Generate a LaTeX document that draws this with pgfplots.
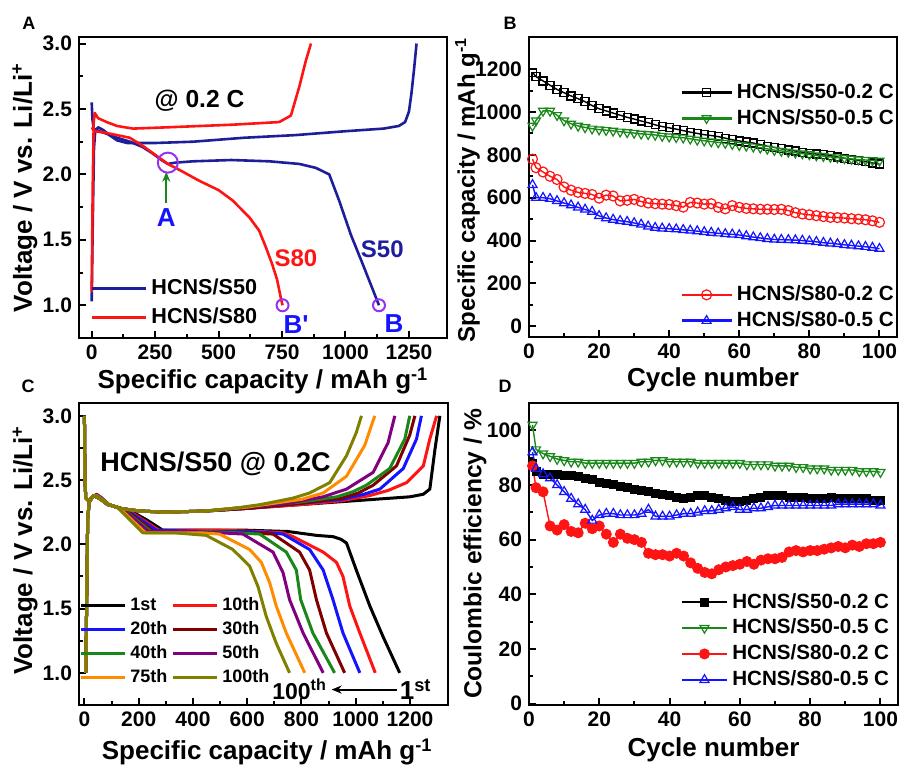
\documentclass[border=0pt]{standalone}
\usepackage{pgfplots}
\pgfplotsset{compat=1.18}
\usepackage{pgfplotstable}
\usepackage{fontspec}
\setmainfont{Liberation Sans}
\newfontfamily\plainsans{Liberation Sans}[Ligatures=ResetAll]
\usetikzlibrary{arrows.meta}

\definecolor{navy}{RGB}{30,30,155}
\definecolor{myred}{RGB}{255,20,20}
\definecolor{mygreen}{RGB}{25,135,25}
\definecolor{myblue}{RGB}{20,20,255}
\definecolor{violetc}{RGB}{150,50,240}
\definecolor{dred}{RGB}{128,0,0}
\definecolor{purp}{RGB}{128,0,128}
\definecolor{orng}{RGB}{255,140,0}
\definecolor{olv}{RGB}{128,128,0}

\newcommand{\fs}[1]{\fontsize{#1}{#1}\selectfont\bfseries}

\pgfplotsset{
 base/.style={
  scale only axis,
  anchor=south west,
  axis line style={line width=1.3pt},
  tick align=inside,
  tick pos=left,
  major tick length=3.5pt,
  minor tick length=2pt,
  tick style={black, line width=1pt},
  minor tick num=1,
  tick label style={font=\fs{10.5}},
  label style={font=\fs{13}},
  /pgf/number format/assume math mode=true,
  /pgf/number format/1000 sep={},
  legend cell align=left,
 },
 onedec/.style={yticklabel style={/pgf/number format/fixed, /pgf/number format/fixed zerofill, /pgf/number format/precision=1}},
}

\pgfplotstableread{
c a b r u
1 1185 935 780 660
2 1165 960 740 600
4 1145 1005 720 600
6 1125 1005 700 595
8 1105 985 685 585
10 1090 960 650 575
12 1075 945 635 565
14 1062 935 625 555
16 1048 928 620 545
18 1030 922 615 535
20 1015 918 598 515
22 1005 915 612 505
24 995 912 608 498
26 985 908 585 492
28 975 905 588 488
30 967 902 592 482
32 958 898 582 475
34 950 896 575 466
36 940 893 572 460
38 932 888 570 457
40 926 885 568 455
42 920 882 563 453
44 913 880 556 450
46 906 875 578 447
48 900 870 575 444
50 894 866 570 440
52 890 862 572 437
54 885 858 555 434
56 878 855 548 431
58 870 850 563 429
60 865 845 555 426
62 860 842 550 421
64 855 838 548 416
66 848 833 546 412
68 840 828 546 408
70 835 822 545 405
72 828 818 546 404
74 823 814 540 403
76 818 810 530 402
78 812 806 524 400
80 808 802 520 397
82 804 797 516 394
84 800 794 512 390
86 796 790 508 387
88 790 787 507 384
90 784 784 505 380
92 779 781 502 377
94 774 778 500 374
96 768 776 497 371
98 762 774 492 367
100 757 772 485 362
}\capdata

\pgfplotstableread{
c a b r u
1 88 102 87 92
2 85 93 79 86
4 84 91.5 77.5 84
6 84 90.5 65 82.5
8 84 89.5 63.5 80
10 83.5 89 65.5 77.5
12 83.5 88.5 63 75
14 83 88.5 62.5 73
16 82.5 88 66 71
18 82 88 64 67
20 81 88 65 69
22 80.5 88 62 69.5
24 80 88 59 69.5
26 79.5 88 62 69
28 79 88 60.5 69
30 78.5 88 60 69
32 78 88.5 59 69.5
34 77.5 88.5 55 71
36 77 89 54.5 68.5
38 76.5 89 54.5 68.5
40 76 88.5 54 68.5
42 75.5 88.5 55 69
44 75 88.5 54 69.5
46 75.5 88.5 51.5 69.5
48 76 88 49.5 70
50 76 88 48 70.5
52 75.5 88 47.5 70.5
54 75 88 49 71
56 74.5 88 50 71.5
58 74 88 50.5 72
60 74 88 51 71
62 74.5 87.5 52 71
64 75 87.5 51 71.5
66 75.5 87.5 52.5 71.5
68 76 87.5 53 72
70 76 87 53 72.5
72 76 87 53.5 72.5
74 75.5 87 55.5 72.5
76 75.5 86.5 56 72.5
78 75.5 86.5 55.5 72.5
80 75 86 56 72.5
82 75 86 56 72.5
84 75 86 56.5 72.5
86 75.5 85.5 57 72.5
88 75 85.5 57.5 73
90 75 85.5 57 73
92 75 85.5 58 73
94 75 85 57.5 73
96 75 85 58.5 73
98 74.5 85 58.5 73
100 74.5 84.7 59 72.5
}\cedata

\begin{document}
\begin{tikzpicture}
\useasboundingbox (0,0) rectangle (450.5pt,382.5pt);

% panel letters
\node[font=\fs{9}] at (14.5pt,371pt) {A};
\node[font=\fs{9}] at (255pt,371pt) {B};
\node[font=\fs{9}] at (14pt,189.5pt) {C};
\node[font=\fs{9}] at (252.5pt,189.5pt) {D};

% ---------------- A ----------------
\begin{axis}[base, onedec, at={(39.5pt,213.5pt)}, width=184pt, height=150.5pt,
 xmin=-50, xmax=1400, ymin=0.75, ymax=3.05,
 xtick={0,250,500,750,1000,1250}, ytick={1,1.5,2,2.5,3},
 xlabel={Specific capacity / mAh g\textsuperscript{-1}},
 ylabel={Voltage / V vs. Li/Li\textsuperscript{+}},
 xlabel style={at={(axis description cs:0.5,-0.143)}, anchor=center},
 ylabel style={at={(axis description cs:-0.147,0.5)}, anchor=center},
 legend style={at={(0.03,0.21)}, anchor=north west, draw=none, fill=none, font=\fs{10.8}, row sep=1pt, inner sep=0pt},
 legend image code/.code={\draw[#1, line width=1.5pt] (0pt,0pt) -- (27pt,0pt);},
]
\addplot[navy, line width=1.3pt, line join=round] coordinates {(0,1.03) (4,1.6) (9,2.2) (14,2.33) (25,2.36) (45,2.34) (70,2.3) (100,2.26) (140,2.24) (250,2.24) (400,2.25) (600,2.28) (800,2.3) (1000,2.33) (1150,2.35) (1210,2.37) (1235,2.40) (1250,2.48) (1260,2.62) (1270,2.8) (1280,3.0)};
\addlegendentry{HCNS/S50}
\addplot[navy, line width=1.3pt, line join=round, forget plot] coordinates {(0,2.55) (3,2.42) (8,2.35) (30,2.33) (60,2.31) (100,2.28) (150,2.25) (200,2.21) (240,2.16) (275,2.11) (300,2.08) (330,2.09) (400,2.1) (550,2.11) (700,2.1) (818,2.08) (883,2.05) (936,2.0) (975,1.8) (1021,1.54) (1073,1.29) (1132,1.0)};
\addplot[myred, line width=1.3pt, line join=round] coordinates {(0,1.1) (4,1.9) (8,2.4) (12,2.47) (25,2.43) (59,2.40) (100,2.37) (163,2.35) (300,2.36) (556,2.38) (739,2.40) (785,2.45) (818,2.67) (844,2.87) (864,3.0)};
\addlegendentry{HCNS/S80}
\addplot[myred, line width=1.3pt, line join=round, forget plot] coordinates {(0,2.36) (10,2.33) (50,2.32) (100,2.3) (150,2.28) (200,2.22) (250,2.15) (300,2.08) (350,2.03) (425,1.95) (500,1.88) (556,1.8) (622,1.67) (660,1.57) (687,1.44) (710,1.32) (730,1.2) (746,1.05) (752,1.0)};
\addplot[only marks, mark=o, mark size=5pt, violetc, line width=1pt, forget plot] coordinates {(300,2.09)};
\addplot[only marks, mark=o, mark size=3pt, violetc, line width=1pt, forget plot] coordinates {(752,1.0) (1132,1.0)};
\draw[mygreen, line width=1pt, -{Stealth[length=5pt,width=4pt]}] (axis cs:294,1.78) -- (axis cs:294,2.02);
\node[font=\fs{13}, myblue] at (axis cs:294,1.67) {A};
\node[font=\fs{12}, myred] at (axis cs:805,1.36) {S80};
\node[font=\fs{12}, navy] at (axis cs:1145,1.43) {S50};
\node[font=\fs{13}\plainsans, myblue] at (axis cs:805,0.85) {B'};
\node[font=\fs{13}, myblue] at (axis cs:1191,0.86) {B};
\node[font=\fs{12.3}] at (axis cs:425,2.56) {@ 0.2 C};
\end{axis}

% ---------------- B ----------------
\begin{axis}[base, at={(264.5pt,214pt)}, width=184pt, height=150pt,
 xmin=0, xmax=105, ymin=-50, ymax=1350,
 xtick={0,20,40,60,80,100}, ytick={0,200,400,600,800,1000,1200},
 xlabel={Cycle number},
 ylabel={Specific capacity / mAh g\textsuperscript{-1}},
 xlabel style={at={(axis description cs:0.5,-0.143)}, anchor=center},
 ylabel style={at={(axis description cs:-0.167,0.49)}, anchor=center, font=\fs{12}},
 legend style={at={(0.41,0.86)}, anchor=north west, draw=none, fill=none, font=\fs{10.3}, row sep=0pt, inner sep=0pt},
 legend image code/.code={\draw[mark repeat=2,mark phase=2,#1] plot coordinates {(0pt,0pt) (12.5pt,0pt) (25pt,0pt)};},
 legend image post style={line width=1.3pt},
]
\addplot[black, line width=0.7pt, mark=square, mark size=2pt, mark options={fill=white, line width=0.6pt}] table[x=c, y=a] {\capdata};
\addlegendentry{HCNS/S50-0.2 C}
\addplot[mygreen, line width=0.7pt, mark=triangle, mark size=2.6pt, mark options={fill=white, line width=0.6pt, rotate=180}] table[x=c, y=b] {\capdata};
\addlegendentry{HCNS/S50-0.5 C}
\end{axis}
\begin{axis}[scale only axis, anchor=south west, hide axis, at={(264.5pt,214pt)}, width=184pt, height=150pt,
 xmin=0, xmax=105, ymin=-50, ymax=1350,
 legend cell align=left,
 legend style={at={(0.41,0.185)}, anchor=north west, draw=none, fill=none, font=\fs{10.3}, row sep=0pt, inner sep=0pt},
 legend image code/.code={\draw[mark repeat=2,mark phase=2,#1] plot coordinates {(0pt,0pt) (12.5pt,0pt) (25pt,0pt)};},
 legend image post style={line width=1.3pt},
]
\addplot[myred, line width=0.7pt, mark=o, mark size=2.5pt, mark options={fill=white, line width=0.6pt}] table[x=c, y=r] {\capdata};
\addlegendentry{HCNS/S80-0.2 C}
\addplot[myblue, line width=0.7pt, mark=triangle, mark size=2.6pt, mark options={fill=white, line width=0.6pt}] table[x=c, y=u] {\capdata};
\addlegendentry{HCNS/S80-0.5 C}
\end{axis}

% ---------------- C ----------------
\begin{axis}[base, onedec, at={(39.5pt,30pt)}, width=184.5pt, height=151pt,
 xmin=-20, xmax=1340, ymin=0.75, ymax=3.1,
 xtick={0,200,400,600,800,1000,1200}, ytick={1,1.5,2,2.5,3},
 xlabel={Specific capacity / mAh g\textsuperscript{-1}},
 ylabel={Voltage / V vs. Li/Li\textsuperscript{+}},
 xlabel style={at={(axis description cs:0.51,-0.156)}, anchor=center},
 ylabel style={at={(axis description cs:-0.146,0.513)}, anchor=center},
 legend columns=2,
 legend style={at={(0.0,0.37)}, anchor=north west, draw=none, fill=none, font=\fs{9}, row sep=0pt, inner sep=0pt, /tikz/column 2/.style={column sep=0pt}},
 legend image code/.code={\draw[#1] (0pt,0pt) -- (22pt,0pt);},
 every axis plot/.append style={line width=1.5pt, line join=round},
]
% 1st
\addplot[black] coordinates {(0,3.0) (2,2.5) (5,2.36) (15,2.34) (35,2.38) (60,2.35) (85,2.31) (120,2.29) (170,2.26) (230,2.19) (289,2.11) (400,2.11) (600,2.11) (750,2.1) (855,2.07) (916,2.06) (945,2.04) (966,2.01) (1002,1.80) (1052,1.52) (1101,1.28) (1162,1.0)};
\addlegendentry{1st}
\addplot[black, forget plot] coordinates {(5,1.0) (8,1.5) (12,2.2) (18,2.33) (30,2.37) (45,2.38) (65,2.35) (90,2.31) (130,2.28) (200,2.26) (300,2.25) (450,2.26) (600,2.28) (800,2.31) (1000,2.34) (1200,2.37) (1249,2.39) (1273,2.43) (1292,2.74) (1310,3.0)};
% 10th
\addplot[myred] coordinates {(0,3.0) (2,2.5) (5,2.36) (15,2.34) (35,2.38) (60,2.35) (85,2.31) (120,2.29) (165,2.26) (275,2.11) (500,2.11) (650,2.1) (732,2.09) (769,2.06) (880,1.94) (929,1.86) (953,1.75) (978,1.52) (1015,1.31) (1072,1.0)};
\addlegendentry{10th}
\addplot[myred, forget plot] coordinates {(5,1.0) (8,1.5) (12,2.2) (18,2.33) (30,2.37) (45,2.38) (65,2.35) (90,2.31) (130,2.28) (200,2.26) (300,2.25) (450,2.26) (600,2.28) (800,2.31) (950,2.34) (1052,2.38) (1120,2.42) (1187,2.48) (1249,2.61) (1273,2.82) (1298,3.0)};
% 20th
\addplot[myblue] coordinates {(0,3.0) (2,2.5) (5,2.36) (15,2.34) (35,2.38) (60,2.35) (85,2.31) (120,2.29) (160,2.26) (265,2.11) (450,2.1) (600,2.1) (680,2.09) (732,2.08) (830,1.96) (880,1.8) (916,1.57) (953,1.31) (1015,1.0)};
\addlegendentry{20th}
\addplot[myblue, forget plot] coordinates {(5,1.0) (8,1.5) (12,2.2) (18,2.33) (30,2.37) (45,2.38) (65,2.35) (90,2.31) (130,2.28) (200,2.26) (300,2.25) (450,2.26) (600,2.28) (800,2.32) (950,2.35) (1030,2.39) (1089,2.43) (1175,2.59) (1224,2.82) (1242,3.0)};
% 30th
\addplot[dred] coordinates {(0,3.0) (2,2.5) (5,2.36) (15,2.34) (35,2.38) (60,2.35) (85,2.31) (120,2.29) (155,2.26) (255,2.1) (450,2.1) (600,2.09) (695,2.08) (793,1.94) (830,1.80) (855,1.57) (892,1.31) (959,1.0)};
\addlegendentry{30th}
\addplot[dred, forget plot] coordinates {(5,1.0) (8,1.5) (12,2.2) (18,2.33) (30,2.37) (45,2.38) (65,2.35) (90,2.31) (130,2.28) (200,2.26) (300,2.25) (450,2.26) (600,2.28) (800,2.32) (950,2.36) (1010,2.40) (1064,2.46) (1150,2.61) (1199,2.85) (1218,3.0)};
% 40th
\addplot[mygreen] coordinates {(0,3.0) (2,2.5) (5,2.36) (15,2.34) (35,2.38) (60,2.35) (85,2.31) (120,2.29) (150,2.26) (245,2.1) (450,2.1) (560,2.09) (646,2.08) (744,1.94) (781,1.80) (797,1.57) (842,1.31) (922,1.0)};
\addlegendentry{40th}
\addplot[mygreen, forget plot] coordinates {(5,1.0) (8,1.5) (12,2.2) (18,2.33) (30,2.37) (45,2.38) (65,2.35) (90,2.31) (130,2.28) (200,2.26) (300,2.25) (450,2.26) (600,2.29) (800,2.33) (930,2.37) (990,2.41) (1039,2.46) (1125,2.59) (1181,2.82) (1199,3.0)};
% 50th
\addplot[purp] coordinates {(0,3.0) (2,2.5) (5,2.36) (15,2.34) (35,2.38) (60,2.35) (85,2.31) (120,2.29) (147,2.26) (237,2.1) (400,2.1) (500,2.09) (584,2.08) (695,1.94) (732,1.78) (756,1.57) (806,1.31) (880,1.0)};
\addlegendentry{50th}
\addplot[purp, forget plot] coordinates {(5,1.0) (8,1.5) (12,2.2) (18,2.33) (30,2.37) (45,2.39) (65,2.36) (90,2.31) (130,2.28) (200,2.26) (300,2.25) (450,2.26) (600,2.29) (750,2.32) (880,2.37) (966,2.43) (1064,2.56) (1119,2.79) (1144,3.0)};
% 75th
\addplot[orng] coordinates {(0,3.0) (2,2.5) (5,2.36) (15,2.34) (35,2.38) (60,2.35) (85,2.31) (120,2.29) (140,2.26) (225,2.09) (350,2.09) (430,2.09) (498,2.08) (609,1.96) (652,1.86) (683,1.70) (707,1.52) (744,1.31) (812,1.0)};
\addlegendentry{75th}
\addplot[orng, forget plot] coordinates {(5,1.0) (8,1.5) (12,2.2) (18,2.33) (30,2.37) (45,2.38) (65,2.35) (90,2.31) (130,2.28) (200,2.26) (300,2.25) (450,2.26) (600,2.29) (700,2.32) (800,2.35) (880,2.40) (966,2.53) (1033,2.77) (1070,3.0)};
% 100th
\addplot[olv] coordinates {(0,3.0) (2,2.5) (5,2.36) (15,2.34) (35,2.38) (60,2.35) (85,2.31) (120,2.29) (135,2.26) (215,2.09) (330,2.09) (449,2.07) (547,1.96) (609,1.83) (640,1.67) (670,1.44) (707,1.23) (756,1.0)};
\addlegendentry{100th}
\addplot[olv, forget plot] coordinates {(5,1.0) (8,1.5) (12,2.2) (18,2.33) (30,2.37) (45,2.38) (65,2.35) (90,2.31) (130,2.28) (200,2.26) (300,2.25) (450,2.26) (550,2.28) (650,2.31) (769,2.36) (830,2.40) (904,2.48) (966,2.69) (1002,2.87) (1021,3.0)};
\node[font=\fs{13.5}] at (axis cs:483,2.625) {HCNS/S50 @ 0.2C};
\node[font=\fs{11.5}] at (axis cs:793,0.87) {100\textsuperscript{th}};
\node[font=\fs{13}] at (axis cs:1221,0.87) {1\textsuperscript{st}};
\draw[black, line width=1pt, -{Stealth[length=5pt,width=4pt]}] (axis cs:1151,0.87) -- (axis cs:911,0.87);
\end{axis}

% ---------------- D ----------------
\begin{axis}[base, at={(264.5pt,30pt)}, width=184.5pt, height=151pt,
 xmin=0, xmax=105, ymin=-0.5, ymax=110,
 xtick={0,20,40,60,80,100}, ytick={0,20,40,60,80,100},
 xlabel={Cycle number},
 ylabel={Coulombic efficiency / \%},
 xlabel style={at={(axis description cs:0.5,-0.149)}, anchor=center},
 ylabel style={at={(axis description cs:-0.146,0.5)}, anchor=center, font=\fs{12.3}},
 legend style={at={(0.41,0.385)}, anchor=north west, draw=none, fill=none, font=\fs{10.3}, row sep=0pt, inner sep=0pt},
 legend image code/.code={\draw[mark repeat=2,mark phase=2,#1] plot coordinates {(0pt,0pt) (11.25pt,0pt) (22.5pt,0pt)};},
 legend image post style={line width=1.3pt},
]
\addplot[black, line width=0.7pt, mark=square*, mark size=2pt, mark options={line width=0.5pt}] table[x=c, y=a] {\cedata};
\addlegendentry{HCNS/S50-0.2 C}
\addplot[mygreen, line width=0.7pt, mark=triangle, mark size=2.6pt, mark options={fill=white, line width=0.6pt, rotate=180}] table[x=c, y=b] {\cedata};
\addlegendentry{HCNS/S50-0.5 C}
\addplot[myred, line width=0.7pt, mark=*, mark size=2.5pt, mark options={line width=0.5pt}] table[x=c, y=r] {\cedata};
\addlegendentry{HCNS/S80-0.2 C}
\addplot[myblue, line width=0.7pt, mark=triangle, mark size=2.6pt, mark options={fill=white, line width=0.6pt}] table[x=c, y=u] {\cedata};
\addlegendentry{HCNS/S80-0.5 C}
\end{axis}
\end{tikzpicture}
\end{document}
